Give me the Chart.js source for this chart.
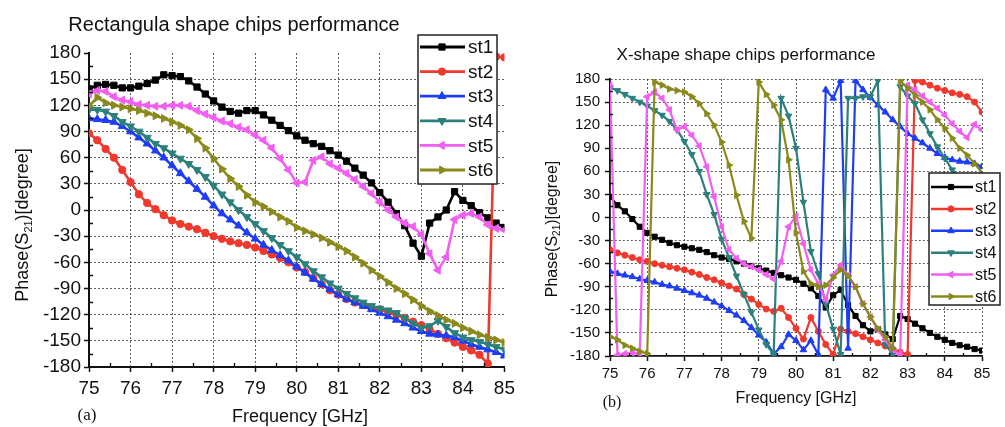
<!DOCTYPE html>
<html><head><meta charset="utf-8">
<script src="https://cdn.jsdelivr.net/npm/chart.js@4.4.1/dist/chart.umd.min.js"></script>
<style>
html,body{margin:0;padding:0;background:#fff;}
body{width:1005px;height:427px;position:relative;overflow:hidden;}
#ca{position:absolute;left:0;top:0;}
#cb{position:absolute;left:520px;top:0;}
</style></head><body>
<canvas id="ca" width="520" height="427"></canvas>
<canvas id="cb" width="485" height="427"></canvas>
<script>
// ---------------- DATA ----------------
const freqGHz = [75,75.2,75.4,75.6,75.8,76,76.2,76.4,76.6,76.8,77,77.2,77.4,77.6,77.8,78,78.2,78.4,78.6,78.8,79,79.2,79.4,79.6,79.8,80,80.2,80.4,80.6,80.8,81,81.2,81.4,81.6,81.8,82,82.2,82.4,82.6,82.8,83,83.2,83.4,83.6,83.8,84,84.2,84.4,84.6,84.8,85];
const xTickValues = [75,76,77,78,79,80,81,82,83,84,85];
const yTickValues = [-180,-150,-120,-90,-60,-30,0,30,60,90,120,150,180];
const seriesNames = ['st1','st2','st3','st4','st5','st6'];

// (a) Rectangula shape chips
const rectSt1 = [139,143,144,143,140,140,142,145,149,155,154,153,148,141,133,125,118,113,111,114,114,109,103,97,91,85,80,76,73,68,63,56,48,40,31,20,9,-4,-18,-38,-53,-15,-8,0,21,11,5,-3,-9,-15,-20];
const rectSt2 = [88,80,70,60,46,32,18,8,1,-6,-12,-16,-19,-22,-26,-30,-33,-36,-38,-40,-43,-47,-51,-55,-60,-66,-71,-78,-85,-92,-97,-102,-106,-109,-112,-114,-117,-120,-124,-128,-132,-137,-142,-147,-152,-157,-161,-166,-176,176,175];
const rectSt3 = [105,104,103,101,96,90,83,76,68,60,51,42,33,24,15,5,-4,-11,-18,-26,-33,-40,-46,-52,-58,-65,-72,-79,-85,-91,-97,-102,-106,-110,-114,-118,-122,-126,-130,-135,-139,-142,-143,-144,-146,-150,-154,-157,-160,-163,-167];
const rectSt4 = [115,115,113,108,101,96,90,83,76,71,65,59,53,46,38,28,18,9,0,-8,-16,-24,-32,-40,-47,-54,-62,-70,-77,-84,-90,-96,-101,-106,-110,-113,-115,-118,-124,-130,-135,-133,-127,-134,-141,-146,-149,-151,-154,-157,-160];
const rectSt5 = [133,137,136,130,126,124,121,120,119,119,120,120,119,114,110,106,102,99,95,92,86,80,71,59,46,31,32,57,61,53,48,42,35,27,19,9,0,-8,-15,-19,-28,-50,-69,-54,-11,-6,-4,-8,-17,-21,-23];
const rectSt6 = [119,129,123,120,118,116,114,111,108,105,101,97,92,82,71,59,47,36,27,17,9,4,-2,-8,-13,-20,-24,-28,-32,-37,-42,-47,-54,-61,-69,-76,-83,-90,-96,-103,-110,-116,-121,-126,-130,-135,-139,-143,-146,-149,-152];

// (b) X-shape shape chips
const xshapeSt1 = [27,16,8,-2,-12,-20,-25,-29,-33,-36,-38,-40,-42,-45,-49,-52,-54,-57,-60,-63,-66,-69,-72,-75,-78,-81,-86,-92,-102,-117,-101,-94,-114,-128,-140,-148,-145,-152,-158,-128,-132,-138,-144,-150,-155,-159,-163,-166,-168,-171,-173];
const xshapeSt2 = [-42,-46,-49,-52,-55,-57,-60,-62,-64,-66,-68,-71,-74,-78,-81,-85,-89,-93,-100,-106,-113,-119,-122,-118,-130,-144,-158,-130,-148,-165,-178,-145,-148,-151,-155,-159,-163,-167,-171,-175,-178,178,176,172,168,165,162,160,157,150,137];
const xshapeSt3 = [-70,-73,-75,-77,-80,-82,-84,-87,-89,-92,-95,-98,-101,-105,-110,-115,-121,-127,-134,-143,-153,-162,-177,-168,-152,-160,-172,-160,-178,166,155,178,-170,178,166,156,146,137,127,118,109,103,97,90,83,78,75,73,72,70,66];
const xshapeSt4 = [169,165,160,155,150,145,139,133,125,114,99,82,60,30,4,-28,-52,-76,-100,-123,-146,-165,-178,155,132,90,20,-44,-73,-112,-145,-178,155,155,157,157,178,-165,-178,170,158,148,127,109,92,77,62,50,38,28,18];
const xshapeSt5 = [172,-179,-177,-176,-177,157,163,155,140,114,118,107,93,66,27,-12,-42,-53,-60,-64,-68,-74,-80,-57,-12,2,-34,-68,-86,-107,-75,-62,-75,-90,-112,-129,-146,-159,-172,-178,172,166,158,150,142,133,122,112,104,121,114];
const xshapeSt6 = [-155,-159,-166,-170,-174,-177,176,172,167,165,163,157,148,135,120,98,68,29,-5,-27,176,160,146,127,75,-20,-70,-86,-90,-88,-78,-68,-76,-90,-112,-129,-144,-155,-170,178,168,159,150,140,127,116,103,90,81,70,58];

// ---------------- STYLE ----------------
const SANS = "'Liberation Sans', Arial, Helvetica, sans-serif";
const SERIF = "'Liberation Serif', 'Times New Roman', serif";
const seriesStyle = [
  {color:'#000000', ps:'rect', rot:0, k:1.1},
  {color:'#f0392c', ps:'circle', rot:0, k:0.92},
  {color:'#1e3df5', ps:'triangle', rot:0, k:1.15},
  {color:'#2c807c', ps:'triangle', rot:180, k:1.15},
  {color:'#f25ef2', ps:'triangle', rot:270, k:1.15},
  {color:'#8a8a1c', ps:'triangle', rot:90, k:1.15}
];

function drawMarker(ctx, st, r, x, y) {
  ctx.save();
  ctx.translate(x, y);
  ctx.rotate(st.rot * Math.PI / 180);
  ctx.fillStyle = st.color;
  ctx.strokeStyle = st.color;
  ctx.lineWidth = 1;
  ctx.beginPath();
  if (st.ps === 'rect') {
    const h = r * 0.7071;
    ctx.rect(-h, -h, 2 * h, 2 * h);
  } else if (st.ps === 'circle') {
    ctx.arc(0, 0, r, 0, Math.PI * 2);
  } else {
    for (let i = 0; i < 3; i++) {
      const a = i * 2 * Math.PI / 3;
      const px = Math.sin(a) * r, py = -Math.cos(a) * r;
      if (i === 0) ctx.moveTo(px, py); else ctx.lineTo(px, py);
    }
    ctx.closePath();
  }
  ctx.fill();
  ctx.stroke();
  ctx.restore();
}

function makeDecor(cfg) {
  return {
    id: 'decor',
    afterDatasetsDraw(chart) {
      const ctx = chart.ctx;
      const L = cfg.legend;
      ctx.save();
      ctx.fillStyle = '#fff';
      ctx.fillRect(L.x, L.y, L.w, L.h);
      ctx.strokeStyle = '#222';
      ctx.lineWidth = 1.5;
      ctx.strokeRect(L.x, L.y, L.w, L.h);
      chart.data.datasets.forEach((ds, i) => {
        const st = seriesStyle[i];
        const y = L.rowY0 + i * L.dy;
        ctx.strokeStyle = st.color;
        ctx.lineWidth = L.lw;
        ctx.beginPath();
        ctx.moveTo(L.lx1, y);
        ctx.lineTo(L.lx2, y);
        ctx.stroke();
        drawMarker(ctx, st, cfg.r * st.k, L.mx, y);
        ctx.fillStyle = '#111';
        ctx.font = L.size + 'px ' + SANS;
        ctx.textAlign = 'left';
        ctx.textBaseline = 'middle';
        ctx.fillText(ds.label, L.tx, y + 1);
      });
      ctx.restore();
    },
    afterDraw(chart) {
      const ctx = chart.ctx;
      const xs = chart.scales.x, ys = chart.scales.y;
      const a = chart.chartArea;
      ctx.save();
      // minor ticks (inside)
      ctx.strokeStyle = '#111';
      ctx.lineWidth = 1.3;
      ctx.beginPath();
      for (let i = 0; i < yTickValues.length - 1; i++) {
        const v = (yTickValues[i] + yTickValues[i + 1]) / 2;
        const p = Math.round(ys.getPixelForValue(v)) + 0.5;
        ctx.moveTo(a.left, p); ctx.lineTo(a.left + cfg.minor, p);
      }
      for (let i = 0; i < xTickValues.length - 1; i++) {
        const v = (xTickValues[i] + xTickValues[i + 1]) / 2;
        const p = Math.round(xs.getPixelForValue(v)) + 0.5;
        ctx.moveTo(p, a.bottom); ctx.lineTo(p, a.bottom - cfg.minor);
      }
      ctx.stroke();
      // texts
      ctx.fillStyle = '#111';
      ctx.textAlign = 'center';
      ctx.textBaseline = 'middle';
      ctx.font = cfg.title.size + 'px ' + SANS;
      ctx.fillText(cfg.title.text, cfg.title.x, cfg.title.y);
      ctx.font = cfg.xTitle.size + 'px ' + SANS;
      ctx.fillText(cfg.xTitle.text, cfg.xTitle.x, cfg.xTitle.y);
      ctx.font = cfg.letter.size + 'px ' + SERIF;
      ctx.fillText(cfg.letter.text, cfg.letter.x, cfg.letter.y);
      // y title with subscript
      const Y = cfg.yTitle;
      const big = Y.size + 'px ' + SANS, small = Math.round(Y.size * 0.62) + 'px ' + SANS;
      ctx.font = big;
      const w1 = ctx.measureText('Phase(S').width;
      const w3 = ctx.measureText(')[degree]').width;
      ctx.font = small;
      const w2 = ctx.measureText('21').width;
      const tot = w1 + w2 + w3;
      ctx.translate(Y.x, Y.y);
      ctx.rotate(-Math.PI / 2);
      ctx.textAlign = 'left';
      ctx.textBaseline = 'alphabetic';
      const base = Y.size * 0.36;
      ctx.font = big;
      ctx.fillText('Phase(S', -tot / 2, base);
      ctx.font = small;
      ctx.fillText('21', -tot / 2 + w1, base + Y.size * 0.22);
      ctx.font = big;
      ctx.fillText(')[degree]', -tot / 2 + w1 + w2, base);
      ctx.restore();
    }
  };
}

function makeChart(id, values, cfg) {
  const datasets = values.map((vals, i) => {
    const st = seriesStyle[i];
    return {
      label: seriesNames[i],
      data: freqGHz.map((f, j) => ({x: f, y: vals[j]})),
      borderColor: st.color,
      backgroundColor: st.color,
      pointBackgroundColor: st.color,
      pointBorderColor: st.color,
      pointBorderWidth: 1,
      pointStyle: st.ps,
      pointRotation: st.rot,
      pointRadius: cfg.r * st.k,
      borderWidth: cfg.lw,
      tension: 0,
      fill: false,
      order: 6 - i
    };
  });
  const gridColor = cfg.gridColor;
  return new Chart(document.getElementById(id), {
    type: 'line',
    data: {datasets},
    options: {
      responsive: false,
      animation: false,
      events: [],
      devicePixelRatio: 1,
      layout: {padding: cfg.padding},
      plugins: {legend: {display: false}, tooltip: {enabled: false}, title: {display: false}},
      scales: {
        x: {
          type: 'linear', min: 75, max: 85,
          afterBuildTicks: s => { s.ticks = xTickValues.map(v => ({value: v})); },
          afterFit: s => { s.height = cfg.xAxisH; },
          ticks: {font: {family: SANS, size: cfg.tickX}, color: '#111', padding: cfg.xPad, maxRotation: 0, autoSkip: false},
          grid: {color: c => (c.tick && (c.tick.value === 75 || (cfg.hideEdge && c.tick.value === 85))) ? 'rgba(0,0,0,0)' : gridColor,
                 lineWidth: 1, drawTicks: true, tickLength: 5, tickColor: '#111', tickWidth: 1.5, tickBorderDash: []},
          border: {display: true, color: '#111', width: cfg.axisW, dash: [2, 2]}
        },
        y: {
          type: 'linear', min: -180, max: 180,
          afterBuildTicks: s => { s.ticks = yTickValues.map(v => ({value: v})); },
          afterFit: s => { s.width = cfg.yAxisW; },
          ticks: {font: {family: SANS, size: cfg.tickY}, color: '#111', padding: cfg.yPad, autoSkip: false},
          grid: {color: c => (c.tick && (c.tick.value === -180 || (cfg.hideEdge && c.tick.value === 180))) ? 'rgba(0,0,0,0)' : gridColor,
                 lineWidth: 1, drawTicks: true, tickLength: 5, tickColor: '#111', tickWidth: 1.5, tickBorderDash: []},
          border: {display: true, color: '#111', width: cfg.axisW, dash: [2, 2]}
        }
      }
    },
    plugins: [makeDecor(cfg)]
  });
}

makeChart('ca', [rectSt1, rectSt2, rectSt3, rectSt4, rectSt5, rectSt6], {
  padding: {left: 0, right: 10, top: 53, bottom: 0},
  yAxisW: 89, xAxisH: 60, tickX: 19, tickY: 19, xPad: 5, yPad: 3,
  r: 4.0, lw: 2.6, axisW: 2, minor: 4, hideEdge: true, gridColor: 'rgba(40,40,40,0.75)',
  title: {text: 'Rectangula shape chips performance', x: 234, y: 25, size: 20},
  xTitle: {text: 'Frequency [GHz]', x: 300, y: 417, size: 18},
  letter: {text: '(a)', x: 87, y: 416, size: 17},
  yTitle: {x: 22, y: 225, size: 18},
  legend: {x: 418, y: 35, w: 79, h: 149, rowY0: 47, dy: 24.6, lx1: 420, lx2: 465, mx: 442, tx: 468, size: 19, lw: 2.8}
});

makeChart('cb', [xshapeSt1, xshapeSt2, xshapeSt3, xshapeSt4, xshapeSt5, xshapeSt6], {
  padding: {left: 0, right: 23, top: 79, bottom: 0},
  yAxisW: 90, xAxisH: 71, tickX: 15, tickY: 15, xPad: 4, yPad: 5,
  r: 3.3, lw: 2.2, axisW: 1.8, minor: 3, hideEdge: false, gridColor: 'rgba(40,40,40,0.75)',
  title: {text: 'X-shape shape chips performance', x: 226, y: 55, size: 17},
  xTitle: {text: 'Frequency [GHz]', x: 276, y: 399, size: 16},
  letter: {text: '(b)', x: 92, y: 403, size: 16},
  yTitle: {x: 31, y: 229, size: 16},
  legend: {x: 409, y: 173, w: 71, h: 132, rowY0: 187, dy: 21.9, lx1: 411, lx2: 453, mx: 431, tx: 455, size: 16, lw: 2.5}
});
</script>
</body></html>
